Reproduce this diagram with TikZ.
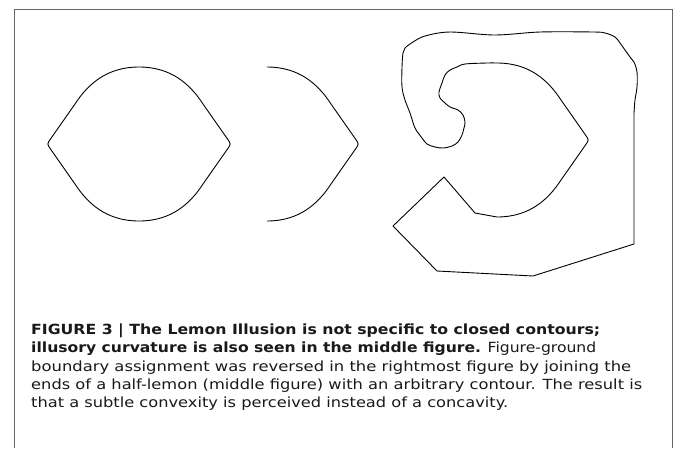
\documentclass[tikz,border=0pt]{standalone}
\usepackage{graphicx}
\usepackage{fontspec}
\setmainfont{DejaVu Sans}
\newcommand{\capfit}[2]{\resizebox{#1}{\height}{#2}}

\tikzstyle{contour}=[draw=black, line width=0.9pt, line join=round]
\tikzstyle{frame}=[draw=black!60, line width=1pt]
\tikzstyle{capline}=[anchor=base west, inner sep=0pt, text=black!90, font=\fontsize{14}{17}\selectfont]

\begin{document}
\begin{tikzpicture}[x=1pt, y=-1pt]
\useasboundingbox (0,0) rectangle (675,448);
\draw[frame] (14,448) -- (14,9) -- (672,9) -- (672,448);

% whole lemon
\draw[contour, shift={(139,144)}] (0,-77) .. controls (32,-77) and (51,-60) .. (64,-40) -- (88.5,-5) .. controls (92,0) .. (88.5,5) -- (64,40) .. controls (51,60) and (32,77) .. (0,77)
  .. controls (-32,77) and (-51,60) .. (-64,40) -- (-88.5,5) .. controls (-92,0) .. (-88.5,-5) -- (-64,-40) .. controls (-51,-60) and (-32,-77) .. (0,-77) -- cycle;

% half lemon
\draw[contour, shift={(267,144)}] (0,-77) .. controls (32,-77) and (51,-60) .. (64,-40) -- (88.5,-5) .. controls (92,0) .. (88.5,5) -- (64,40) .. controls (51,60) and (32,77) .. (0,77);

% half lemon closed by an arbitrary contour
\draw[contour, shift={(497,140)}] (0,-77) .. controls (32,-77) and (51,-60) .. (64,-40) -- (88.5,-5) .. controls (92,0) .. (88.5,5) -- (64,40) .. controls (51,60) and (32,77) .. (0,77);
\draw[contour] (497,217) -- (475,213) -- (444,177) -- (393,226) -- (437,271) -- (533,276) -- (634,244) -- (634,113)
  plot[smooth, tension=0.55] coordinates {(634,113) (635,100) (637,87) (637,72) (634,62) (630,57) (625,50) (620,43) (615,37) (605,33) (593,32) (540,32) (495,35) (450,32) (425,36) (413,42) (405,48) (403,53) (402,67) (402,87) (405,100) (410,113) (415,128) (422,138) (427,144) (435,147) (443,148) (452,146) (458,142) (462,135) (464,128) (465,122) (463,115) (458,110) (450,107) (445,103) (440,98) (439,92) (442,83) (445,75) (450,70) (457,67) (465,64) (487,63) (497,63)};

% caption
\node[capline] (cap1) at (31,334) {\capfit{569pt}{\textbf{FIGURE 3 | The Lemon Illusion is not specific to closed contours;}}};
\node[capline] (cap2) at (31,352.5) {\capfit{565pt}{\textbf{illusory curvature is also seen in the middle figure.} Figure-ground}};
\node[capline] (cap3) at (31,371) {\capfit{600pt}{boundary assignment was reversed in the rightmost figure by joining the}};
\node[capline] (cap4) at (31,389.3) {\capfit{611pt}{ends of a half-lemon (middle figure) with an arbitrary contour. The result is}};
\node[capline] (cap5) at (31,407.5) {\capfit{477pt}{that a subtle convexity is perceived instead of a concavity.}};
\end{tikzpicture}
\end{document}
